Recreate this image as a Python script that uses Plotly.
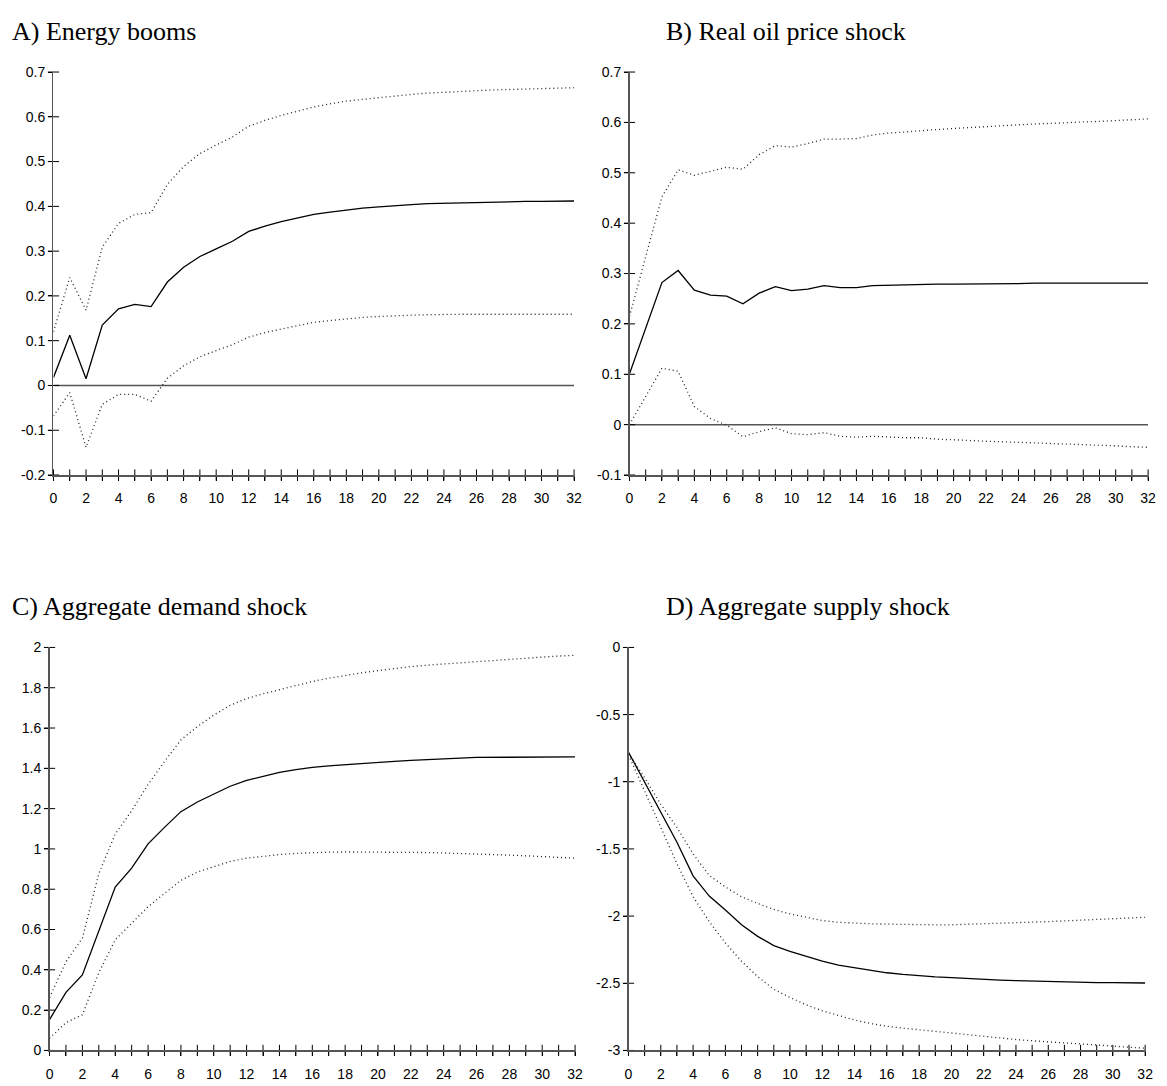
import plotly.graph_objects as go

# ---------------- data ----------------
periods = list(range(33))
x_tick_vals = list(range(33))
x_tick_text = [str(v) if v % 2 == 0 else "" for v in x_tick_vals]

titles = ["A) Energy booms", "B) Real oil price shock",
          "C) Aggregate demand shock", "D) Aggregate supply shock"]

# Panel A: Energy booms
a_mid = [0.018, 0.112, 0.015, 0.135, 0.171, 0.181, 0.176, 0.231, 0.264, 0.288, 0.305,
         0.322, 0.344, 0.356, 0.366, 0.374, 0.382, 0.387, 0.392, 0.396, 0.399, 0.402,
         0.404, 0.406, 0.407, 0.408, 0.409, 0.410, 0.410, 0.411, 0.411, 0.412, 0.412]
a_up = [0.120, 0.241, 0.168, 0.309, 0.362, 0.382, 0.386, 0.449, 0.489, 0.518, 0.537,
        0.555, 0.579, 0.592, 0.603, 0.613, 0.622, 0.629, 0.635, 0.639, 0.643, 0.647,
        0.650, 0.653, 0.655, 0.657, 0.659, 0.660, 0.661, 0.662, 0.663, 0.664, 0.665]
a_lo = [-0.068, -0.016, -0.138, -0.042, -0.020, -0.020, -0.035, 0.016, 0.044, 0.064, 0.078,
        0.091, 0.108, 0.118, 0.126, 0.134, 0.141, 0.145, 0.149, 0.152, 0.154, 0.156,
        0.157, 0.158, 0.159, 0.159, 0.159, 0.159, 0.159, 0.159, 0.159, 0.159, 0.159]
a_yticks = [-0.2, -0.1, 0, 0.1, 0.2, 0.3, 0.4, 0.5, 0.6, 0.7]
a_ytext = ["-0.2", "-0.1", "0", "0.1", "0.2", "0.3", "0.4", "0.5", "0.6", "0.7"]

# Panel B: Real oil price shock
b_mid = [0.101, 0.192, 0.282, 0.306, 0.267, 0.257, 0.255, 0.240, 0.261, 0.274, 0.266,
         0.269, 0.276, 0.272, 0.272, 0.276, 0.277, 0.277, 0.278, 0.279, 0.279, 0.279,
         0.280, 0.280, 0.280, 0.281, 0.281, 0.281, 0.281, 0.281, 0.281, 0.281, 0.281]
b_up = [0.215, 0.335, 0.452, 0.506, 0.495, 0.503, 0.511, 0.507, 0.536, 0.554, 0.551,
        0.558, 0.567, 0.567, 0.568, 0.575, 0.579, 0.581, 0.584, 0.586, 0.588, 0.590,
        0.592, 0.594, 0.595, 0.597, 0.598, 0.600, 0.601, 0.602, 0.604, 0.605, 0.607]
b_lo = [0.000, 0.055, 0.112, 0.106, 0.036, 0.012, -0.001, -0.024, -0.014, -0.006, -0.018,
        -0.020, -0.016, -0.023, -0.025, -0.023, -0.025, -0.026, -0.026, -0.029, -0.030, -0.032,
        -0.033, -0.034, -0.035, -0.037, -0.038, -0.039, -0.039, -0.041, -0.042, -0.044, -0.045]
b_yticks = [-0.1, 0, 0.1, 0.2, 0.3, 0.4, 0.5, 0.6, 0.7]
b_ytext = ["-0.1", "0", "0.1", "0.2", "0.3", "0.4", "0.5", "0.6", "0.7"]

# Panel C: Aggregate demand shock
c_mid = [0.153, 0.288, 0.375, 0.598, 0.811, 0.905, 1.025, 1.107, 1.185, 1.233, 1.274,
         1.311, 1.340, 1.361, 1.380, 1.394, 1.405, 1.412, 1.418, 1.425, 1.430, 1.435,
         1.439, 1.444, 1.448, 1.451, 1.454, 1.455, 1.456, 1.457, 1.457, 1.457, 1.457]
c_up = [0.262, 0.440, 0.557, 0.877, 1.074, 1.189, 1.320, 1.434, 1.541, 1.607, 1.664,
        1.713, 1.746, 1.770, 1.790, 1.811, 1.831, 1.847, 1.861, 1.874, 1.885, 1.896,
        1.905, 1.912, 1.918, 1.925, 1.931, 1.937, 1.943, 1.948, 1.952, 1.957, 1.961]
c_lo = [0.060, 0.138, 0.177, 0.385, 0.549, 0.631, 0.713, 0.779, 0.844, 0.885, 0.913,
        0.938, 0.954, 0.964, 0.972, 0.978, 0.982, 0.984, 0.985, 0.985, 0.985, 0.985,
        0.984, 0.982, 0.980, 0.978, 0.975, 0.972, 0.969, 0.966, 0.962, 0.958, 0.954]
c_yticks = [0, 0.2, 0.4, 0.6, 0.8, 1.0, 1.2, 1.4, 1.6, 1.8, 2.0]
c_ytext = ["0", "0.2", "0.4", "0.6", "0.8", "1", "1.2", "1.4", "1.6", "1.8", "2"]

# Panel D: Aggregate supply shock
d_mid = [-0.780, -1.000, -1.220, -1.450, -1.700, -1.851, -1.955, -2.065, -2.151, -2.220, -2.262,
         -2.299, -2.336, -2.365, -2.385, -2.405, -2.422, -2.434, -2.444, -2.452, -2.458, -2.465,
         -2.470, -2.476, -2.480, -2.484, -2.487, -2.490, -2.493, -2.495, -2.496, -2.497, -2.498]
d_up = [-0.787, -0.971, -1.168, -1.340, -1.537, -1.697, -1.783, -1.856, -1.906, -1.950, -1.984,
        -2.011, -2.033, -2.046, -2.053, -2.057, -2.060, -2.063, -2.065, -2.065, -2.065, -2.062,
        -2.058, -2.053, -2.048, -2.045, -2.041, -2.035, -2.029, -2.024, -2.019, -2.014, -2.009]
d_lo = [-0.800, -1.070, -1.340, -1.610, -1.856, -2.041, -2.200, -2.336, -2.451, -2.545, -2.606,
        -2.660, -2.705, -2.742, -2.774, -2.800, -2.820, -2.834, -2.846, -2.860, -2.873, -2.886,
        -2.897, -2.908, -2.919, -2.928, -2.937, -2.944, -2.951, -2.960, -2.968, -2.976, -2.983]
d_yticks = [-3, -2.5, -2, -1.5, -1, -0.5, 0]
d_ytext = ["-3", "-2.5", "-2", "-1.5", "-1", "-0.5", "0"]

panels = [
    dict(mid=a_mid, up=a_up, lo=a_lo, yt=a_yticks, ytt=a_ytext, yr=[-0.2, 0.7], zero=True),
    dict(mid=b_mid, up=b_up, lo=b_lo, yt=b_yticks, ytt=b_ytext, yr=[-0.1, 0.7], zero=True),
    dict(mid=c_mid, up=c_up, lo=c_lo, yt=c_yticks, ytt=c_ytext, yr=[0, 2], zero=False),
    dict(mid=d_mid, up=d_up, lo=d_lo, yt=d_yticks, ytt=d_ytext, yr=[-3, 0], zero=False),
]

# ---------------- layout geometry (pixels) ----------------
W, H = 1167, 1086
boxes = [(50, 576, 65, 474), (632, 1156, 65, 474), (46, 577, 649, 1058), (631, 1153, 649, 1058)]
title_pos = [(6, 24), (667, 24), (6, 607), (667, 607)]

AXIS_COLOR = "#555555"
TICK_FONT = dict(family="Liberation Sans, Arial, sans-serif", size=14, color="black")

fig = go.Figure()
layout = dict(
    width=W, height=H,
    margin=dict(l=0, r=0, t=0, b=0),
    paper_bgcolor="white", plot_bgcolor="white",
    showlegend=False,
    annotations=[], shapes=[],
)

for i, p in enumerate(panels):
    n = i + 1
    xs = "" if n == 1 else str(n)
    xname, yname = "x" + xs, "y" + xs
    x0, x1, y0, y1 = boxes[i]
    xdom = [x0 / W, x1 / W]
    ydom = [1 - y1 / H, 1 - y0 / H]

    if p["zero"]:
        layout["shapes"].append(dict(type="line", xref=xname, yref=yname,
                                     x0=0, x1=32, y0=0, y1=0, layer="below",
                                     line=dict(color=AXIS_COLOR, width=1.5)))

    dot = dict(color="#222222", width=1.3, dash="1px,3px")
    fig.add_trace(go.Scatter(x=periods, y=p["up"], mode="lines", line=dot,
                             xaxis=xname, yaxis=yname, hoverinfo="skip"))
    fig.add_trace(go.Scatter(x=periods, y=p["lo"], mode="lines", line=dot,
                             xaxis=xname, yaxis=yname, hoverinfo="skip"))
    fig.add_trace(go.Scatter(x=periods, y=p["mid"], mode="lines",
                             line=dict(color="black", width=1.3),
                             xaxis=xname, yaxis=yname, hoverinfo="skip"))

    # crossing tick marks on both axes (centred on the axis lines)
    ymin = p["yr"][0]
    fig.add_trace(go.Scatter(
        x=x_tick_vals, y=[ymin] * len(x_tick_vals), mode="markers",
        marker=dict(symbol="line-ns-open", size=8, color="black",
                    line=dict(color="black", width=1)),
        xaxis=xname, yaxis=yname, hoverinfo="skip", cliponaxis=False))
    fig.add_trace(go.Scatter(
        x=[0] * len(p["yt"]), y=p["yt"], mode="markers",
        marker=dict(symbol="line-ew-open", size=8, color="black",
                    line=dict(color="black", width=1)),
        xaxis=xname, yaxis=yname, hoverinfo="skip", cliponaxis=False))

    layout["xaxis" + xs] = dict(
        range=[0, 32], tickmode="array", tickvals=x_tick_vals, ticktext=x_tick_text,
        showgrid=False, zeroline=False, fixedrange=True,
        domain=xdom, anchor=yname,
        ticks="outside", ticklen=4, tickwidth=1, tickcolor="black",
        showline=True, linecolor=AXIS_COLOR, linewidth=1.5,
        tickfont=TICK_FONT, ticklabelstandoff=6,
    )
    layout["yaxis" + xs] = dict(
        range=p["yr"], tickmode="array", tickvals=p["yt"], ticktext=p["ytt"],
        showgrid=False, zeroline=False, fixedrange=True,
        domain=ydom, anchor=xname,
        ticks="outside", ticklen=4, tickwidth=1, tickcolor="black",
        showline=True, linecolor=AXIS_COLOR, linewidth=1.5,
        tickfont=TICK_FONT,
    )

    tx, ty = title_pos[i]
    layout["annotations"].append(dict(
        text=titles[i], xref="paper", yref="paper", x=tx / W, y=1 - ty / H,
        xanchor="left", yanchor="middle", showarrow=False,
        font=dict(family="Liberation Serif, Times New Roman, serif", size=26, color="black"),
    ))

fig.update_layout(**layout)
fig.write_html(
    "out.html",
    config={"displayModeBar": False, "staticPlot": True},
    post_script="document.body.style.margin='0';document.body.style.padding='0';"
                "document.documentElement.style.overflow='hidden';",
)
